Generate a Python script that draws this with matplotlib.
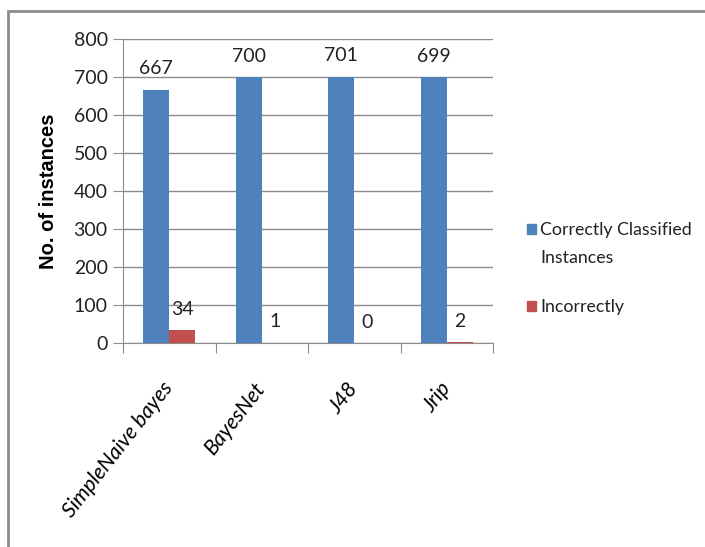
import matplotlib
matplotlib.use("Agg")
import matplotlib.pyplot as plt
from matplotlib.patches import Rectangle
import numpy as np

plt.rcParams["font.family"] = ["Lato", "DejaVu Sans"]

classifiers = ["SimpleNaive bayes", "BayesNet", "J48", "Jrip"]
correct = [667, 700, 701, 699]
incorrect = [34, 1, 0, 2]
series_names = ["Correctly Classified\nInstances", "Incorrectly"]
colors = ["#4F81BD", "#C0504D"]
y_ticks = [0, 100, 200, 300, 400, 500, 600, 700, 800]

W, H = 705, 547
fig = plt.figure(figsize=(W / 100, H / 100), dpi=100)
ax = fig.add_axes([123 / W, 1 - 343 / H, 370 / W, 304 / H])

x = np.arange(len(classifiers))
width = 0.28
b1 = ax.bar(x - width / 2, correct, width, color=colors[0], zorder=3)
b2 = ax.bar(x + width / 2, incorrect, width, color=colors[1], zorder=3)
ax.bar_label(b1, padding=9, fontsize=14, color="#222222")
ax.bar_label(b2, padding=9, fontsize=14, color="#222222")

ax.set_xlim(-0.5, len(classifiers) - 0.5)
ax.set_ylim(0, 800)
ax.set_yticks(y_ticks)
ax.yaxis.grid(True, color="#8c8c8c", linewidth=1)
ax.set_axisbelow(True)

ax.set_xticks(np.arange(len(classifiers) + 1) - 0.5, minor=False)
ax.set_xticklabels([])
ax.set_xticks(x, minor=True)
ax.set_xticklabels(classifiers, minor=True, rotation=52, ha="right",
                   va="center", rotation_mode="anchor", fontstyle="italic",
                   fontsize=15.3)
ax.tick_params(axis="x", which="minor", length=0, pad=30)
ax.tick_params(axis="x", which="major", length=7, color="#8c8c8c")
ax.tick_params(axis="y", length=7, color="#8c8c8c", labelsize=14, pad=4,
               labelcolor="#222222")

for side in ["top", "right"]:
    ax.spines[side].set_visible(False)
for side in ["left", "bottom"]:
    ax.spines[side].set_color("#8c8c8c")

ax.set_ylabel("No. of instances", fontsize=14.5, fontweight="bold",
              family=["Liberation Sans", "DejaVu Sans"], labelpad=11)

# legend drawn by hand so the marker sits on the first text line
legend_y = [1 - 229 / H, 1 - 306 / H]
for name, color, ty in zip(series_names, colors, legend_y):
    fig.patches.append(Rectangle((527 / W, ty - 5 / H), 9 / W, 10 / H,
                                 transform=fig.transFigure, color=color))
    fig.text(540 / W, ty + 7 / H, name, va="top", fontsize=12.8,
             color="#222222", linespacing=1.95)

# outer chart border
fig.patches.append(Rectangle((8 / W, -0.1), 1.2, 1.1 - 11 / H,
                             transform=fig.transFigure, fill=False,
                             edgecolor="#8c8c8c", linewidth=2))

fig.savefig("out.png", dpi=100)
